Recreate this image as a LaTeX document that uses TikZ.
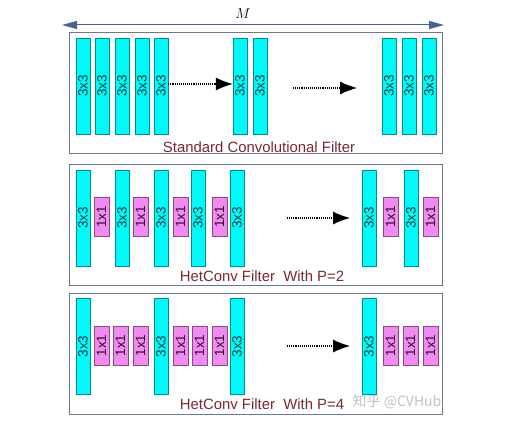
\documentclass[tikz,border=0pt]{standalone}
\usepackage{fontspec}
\setmainfont{Liberation Sans}
\newfontfamily\cjk{Noto Sans CJK SC}
\usetikzlibrary{arrows.meta}
\definecolor{barcyan}{RGB}{0,250,250}
\definecolor{barline}{RGB}{0,140,150}
\definecolor{bartext}{RGB}{0,60,65}
\definecolor{pinkfill}{RGB}{240,140,240}
\definecolor{pinkline}{RGB}{140,70,140}
\definecolor{pinktext}{RGB}{50,5,50}
\definecolor{boxline}{RGB}{110,120,140}
\definecolor{capred}{RGB}{120,40,50}
\definecolor{mblue}{RGB}{70,100,150}
\definecolor{wmgray}{RGB}{195,195,195}
\begin{document}
\begin{tikzpicture}[x=1pt, y=-1pt, font=\fontsize{13.5}{15}\selectfont,
    kbig/.style={draw=barline, fill=barcyan, text=bartext, inner sep=0pt, minimum width=14pt, minimum height=96pt},
    ksmall/.style={draw=pinkline, fill=pinkfill, text=pinktext, inner sep=0pt, minimum width=15pt, minimum height=39pt},
    group/.style={draw=boxline, inner sep=0pt, minimum width=373pt, minimum height=121pt},
    caption/.style={text=capred, font=\fontsize{14.9}{17}\selectfont},
    skip/.style={densely dotted, line width=1.1pt, -{Latex[length=17pt, width=13pt]}}]
    \useasboundingbox (0,0) rectangle (522,430);
    % width arrow
    \node[font=\fontsize{15}{17}\selectfont] (mlab) at (243,14) {$M$};
    \coordinate (mleft) at (62,25);
    \coordinate (mright) at (444,25);
    \draw[mblue, line width=1pt, {Triangle[length=15pt, width=8pt]}-{Triangle[length=15pt, width=8pt]}] (mleft) -- (mright);

    % standard convolution
    \node[group] (std) at (255.5,93) {};
    \node[kbig] (s1) at (83,86) {\rotatebox{90}{3x3}};
    \node[kbig] (s2) at (102,86) {\rotatebox{90}{3x3}};
    \node[kbig] (s3) at (122,86) {\rotatebox{90}{3x3}};
    \node[kbig] (s4) at (142,86) {\rotatebox{90}{3x3}};
    \node[kbig] (s5) at (161,86) {\rotatebox{90}{3x3}};
    \node[kbig] (s6) at (240,86) {\rotatebox{90}{3x3}};
    \node[kbig] (s7) at (260,86) {\rotatebox{90}{3x3}};
    \node[kbig] (s8) at (389,86) {\rotatebox{90}{3x3}};
    \node[kbig] (s9) at (409,86) {\rotatebox{90}{3x3}};
    \node[kbig] (s10) at (429,86) {\rotatebox{90}{3x3}};
    \draw[skip] ([yshift=2pt]s5.east) -- ([yshift=2pt]s6.west);
    \coordinate (sfrom) at (293,88);
    \coordinate (sto) at (357,88);
    \draw[skip] (sfrom) -- (sto);
    \node[caption] (stdcap) at (259,147) {Standard Convolutional Filter};

    % hetconv P=2
    \node[group] (het2) at (255.5,224.5) {};
    \node[kbig] (p1) at (83,218) {\rotatebox{90}{3x3}};
    \node[ksmall] (q1) at (101.5,217) {\rotatebox{90}{1x1}};
    \node[kbig] (p2) at (122,218) {\rotatebox{90}{3x3}};
    \node[ksmall] (q2) at (140.5,217) {\rotatebox{90}{1x1}};
    \node[kbig] (p3) at (161,218) {\rotatebox{90}{3x3}};
    \node[ksmall] (q3) at (180.5,217) {\rotatebox{90}{1x1}};
    \node[kbig] (p4) at (198,218) {\rotatebox{90}{3x3}};
    \node[ksmall] (q4) at (219.5,217) {\rotatebox{90}{1x1}};
    \node[kbig] (p5) at (237,218) {\rotatebox{90}{3x3}};
    \node[kbig] (p6) at (369,218) {\rotatebox{90}{3x3}};
    \node[ksmall] (q5) at (390.5,217) {\rotatebox{90}{1x1}};
    \node[kbig] (p7) at (411,218) {\rotatebox{90}{3x3}};
    \node[ksmall] (q6) at (430.5,217) {\rotatebox{90}{1x1}};
    \coordinate (pfrom) at (287,218);
    \coordinate (pto) at (350,218);
    \draw[skip] (pfrom) -- (pto);
    \node[caption] (het2cap) at (262,276) {HetConv Filter\ \ With P=2};

    % hetconv P=4
    \node[group] (het4) at (255.5,353.5) {};
    \node[kbig] (r1) at (83,346.5) {\rotatebox{90}{3x3}};
    \node[ksmall] (t1) at (101.5,345.5) {\rotatebox{90}{1x1}};
    \node[ksmall] (t2) at (120.5,345.5) {\rotatebox{90}{1x1}};
    \node[ksmall] (t3) at (140.5,345.5) {\rotatebox{90}{1x1}};
    \node[kbig] (r2) at (161,346.5) {\rotatebox{90}{3x3}};
    \node[ksmall] (t4) at (180.5,345.5) {\rotatebox{90}{1x1}};
    \node[ksmall] (t5) at (199.5,345.5) {\rotatebox{90}{1x1}};
    \node[ksmall] (t6) at (219.5,345.5) {\rotatebox{90}{1x1}};
    \node[kbig] (r3) at (237,346.5) {\rotatebox{90}{3x3}};
    \node[kbig] (r4) at (369,346.5) {\rotatebox{90}{3x3}};
    \node[ksmall] (t7) at (390.5,345.5) {\rotatebox{90}{1x1}};
    \node[ksmall] (t8) at (410.5,345.5) {\rotatebox{90}{1x1}};
    \node[ksmall] (t9) at (430.5,345.5) {\rotatebox{90}{1x1}};
    \coordinate (rfrom) at (287,346);
    \coordinate (rto) at (350,346);
    \draw[skip] (rfrom) -- (rto);
    \node[caption] (het4cap) at (262,404) {HetConv Filter\ \ With P=4};
    \node[text=wmgray, font=\fontsize{14}{16}\selectfont] (wm) at (397,402) {\cjk 知乎 @CVHub};
  \end{tikzpicture}
\end{document}
